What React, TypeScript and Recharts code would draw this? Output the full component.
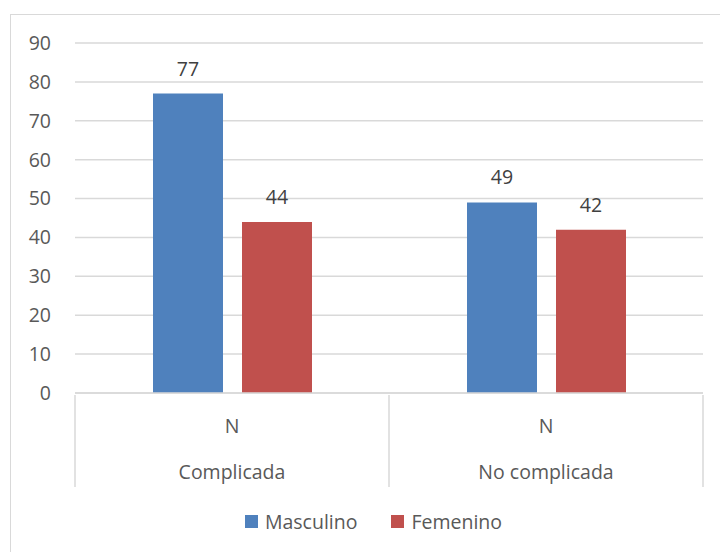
import React from 'react'
import { BarChart, Bar, XAxis, YAxis, CartesianGrid, Legend, LabelList } from 'recharts'

const categories = ['Complicada', 'No complicada']
const subLabels = ['N', 'N']
const masculino = [77, 49]
const femenino = [44, 42]
const yTicks = [0, 10, 20, 30, 40, 50, 60, 70, 80, 90]

const data = categories.map((c, i) => ({
  name: c,
  sub: subLabels[i],
  Masculino: masculino[i],
  Femenino: femenino[i],
}))

const W = 720
const H = 552
const MARGIN = { top: 43, right: 17, bottom: 11, left: 10 }
const Y_WIDTH = 65
const PLOT_W = W - MARGIN.left - MARGIN.right - Y_WIDTH
const BAND = PLOT_W / categories.length
const FONT = '"Open Sans", "Liberation Sans", sans-serif'
const FS = 19.5
const TEXT = '#595959'
const LINE = '#d9d9d9'

const BLUE = '#4f81bd'
const RED = '#c0504d'

function CategoryTick(props: any) {
  const { x, y, payload, index } = props
  const left = x - BAND / 2
  const right = x + BAND / 2
  const i = index ?? 0
  return (
    <g>
      <line x1={left} y1={y} x2={left} y2={y + 92} stroke={LINE} strokeWidth={1.5} />
      {i === categories.length - 1 && (
        <line x1={right} y1={y} x2={right} y2={y + 92} stroke={LINE} strokeWidth={1.5} />
      )}
      <text x={x} y={y + 38} textAnchor="middle" fill={TEXT} fontSize={FS} fontFamily={FONT}>
        {subLabels[i]}
      </text>
      <text x={x} y={y + 84} textAnchor="middle" fill={TEXT} fontSize={FS} fontFamily={FONT}>
        {payload.value}
      </text>
    </g>
  )
}

function LegendContent() {
  const items = [
    { name: 'Masculino', color: BLUE },
    { name: 'Femenino', color: RED },
  ]
  return (
    <div
      style={{
        height: 40,
        display: 'flex',
        justifyContent: 'center',
        alignItems: 'center',
        gap: 34,
        fontFamily: FONT,
        fontSize: FS,
        color: TEXT,
        paddingLeft: 34,
      }}
    >
      {items.map((it) => (
        <div key={it.name} style={{ display: 'flex', alignItems: 'center', gap: 7 }}>
          <span style={{ width: 13, height: 13, background: it.color, display: 'inline-block' }} />
          <span>{it.name}</span>
        </div>
      ))}
    </div>
  )
}

export default function App() {
  return (
    <div style={{ position: 'absolute', left: 0, top: 0, width: W, height: H, background: '#fff', overflow: 'hidden' }}>
      <div
        style={{
          position: 'absolute',
          left: 10,
          top: 14,
          width: W,
          height: H,
          border: `1.5px solid ${LINE}`,
        }}
      />
      <div style={{ position: 'absolute', left: 0, top: 0 }}>
        <BarChart width={W} height={H} data={data} margin={MARGIN} barSize={70} barGap={19}>
          <CartesianGrid vertical={false} stroke={LINE} strokeWidth={1.5} />
          <YAxis
            domain={[0, 90]}
            ticks={yTicks}
            width={Y_WIDTH}
            axisLine={false}
            tickLine={false}
            tickSize={0}
            tickMargin={24}
            tick={{ fill: TEXT, fontSize: FS, fontFamily: FONT }}
          />
          <XAxis
            dataKey="name"
            height={108}
            axisLine={{ stroke: LINE, strokeWidth: 1.5 }}
            tickLine={false}
            tickSize={0}
            tick={<CategoryTick />}
            interval={0}
          />
          <Legend verticalAlign="bottom" height={40} content={<LegendContent />} />
          <Bar dataKey="Masculino" fill={BLUE} isAnimationActive={false}>
            <LabelList dataKey="Masculino" position="top" offset={18} fill="#404040" fontSize={FS} fontFamily={FONT} />
          </Bar>
          <Bar dataKey="Femenino" fill={RED} isAnimationActive={false}>
            <LabelList dataKey="Femenino" position="top" offset={18} fill="#404040" fontSize={FS} fontFamily={FONT} />
          </Bar>
        </BarChart>
      </div>
    </div>
  )
}
